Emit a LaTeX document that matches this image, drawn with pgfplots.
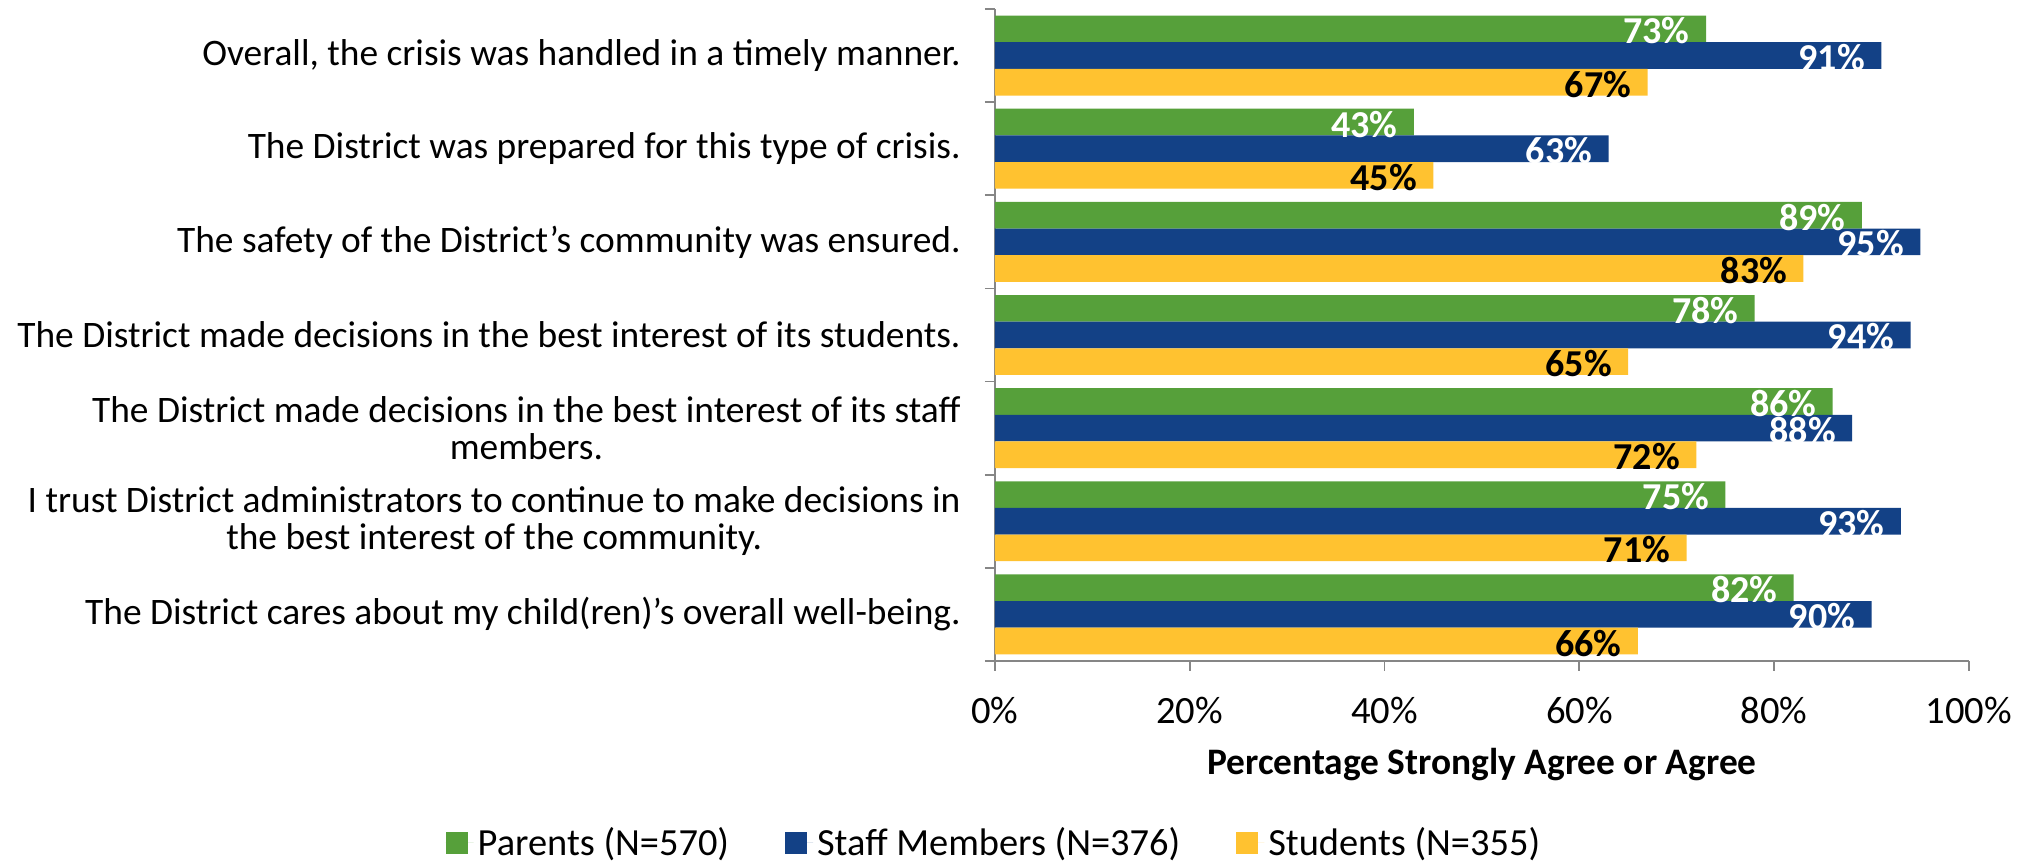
\documentclass[border=0pt]{standalone}
\usepackage{fontspec}
\setmainfont{Carlito}
\usepackage{pgfplots}
\pgfplotsset{compat=1.18}

\definecolor{cParents}{HTML}{56A03A}
\definecolor{cStaff}{HTML}{134186}
\definecolor{cStudents}{HTML}{FFC230}
\definecolor{axgray}{HTML}{868686}

\begin{document}
\begin{tikzpicture}
  \useasboundingbox (-497.5pt,-102pt) rectangle (517.5pt,330.5pt);
  \begin{axis}[
      xbar,
      scale only axis,
      width=487pt, height=326pt,
      xmin=0, xmax=100,
      ymin=-0.5, ymax=6.5,
      enlargelimits=false,
      bar width=0.286,
      axis x line*=bottom, axis y line*=left,
      axis line style={draw=axgray, line width=0.9pt, -},
      tick align=outside,
      major tick length=5pt,
      minor tick length=5pt,
      every tick/.style={draw=axgray, line width=0.9pt},
      major y tick style={draw=none},
      xtick={0,20,40,60,80,100},
      xticklabels={0\%,20\%,40\%,60\%,80\%,100\%},
      xticklabel style={font=\fontsize{19.3pt}{21pt}\selectfont, anchor=base, yshift=-26.5pt},
      ytick={0,1,2,3,4,5,6},
      minor ytick={-0.5,0.5,1.5,2.5,3.5,4.5,5.5,6.5},
      yticklabels={
        {The District cares about my child(ren)’s overall well-being.},
        {I trust District administrators to continue to make decisions in\\the best interest of the community.},
        {The District made decisions in the best interest of its staff\\members.},
        {The District made decisions in the best interest of its students.},
        {The safety of the District’s community was ensured.},
        {The District was prepared for this type of crisis.},
        {Overall, the crisis was handled in a timely manner.}},
      yticklabel style={font=\fontsize{18.7pt}{18.5pt}\selectfont, align=center,
                        anchor=east, inner sep=0pt, xshift=-12pt},
      xlabel={\textbf{Percentage Strongly Agree or Agree}},
      xlabel style={font=\fontsize{18.7pt}{20pt}\selectfont,
                    at={(axis description cs:0.5,0)}, anchor=center, yshift=-52pt},
      /pgf/number format/assume math mode=true,
      point meta=x,
      nodes near coords={\pgfmathprintnumber{\pgfplotspointmeta}\%},
      nodes near coords style={font=\bfseries\fontsize{19pt}{19pt}\selectfont,
                               anchor=east, inner sep=0pt, xshift=-8pt, yshift=-1pt},
      legend style={draw=none, at={(0,-0.279)}, anchor=center, legend columns=3,
                    font=\fontsize{19.2pt}{21pt}\selectfont,
                    /tikz/every even column/.append style={column sep=26pt},
                    /tikz/every odd column/.append style={column sep=0pt}},
      legend image code/.code={\path (0pt,0pt) -- (14pt,0pt);
                               \fill[#1] (0pt,-5.5pt) rectangle (11pt,5.5pt);},
    ]
    \addplot[fill=cParents, draw=none, bar shift=0.286,
             nodes near coords style={text=white}] coordinates {
      (82,0) (75,1) (86,2) (78,3) (89,4) (43,5) (73,6)};
    \addplot[fill=cStaff, draw=none, bar shift=0,
             nodes near coords style={text=white}] coordinates {
      (90,0) (93,1) (88,2) (94,3) (95,4) (63,5) (91,6)};
    \addplot[fill=cStudents, draw=none, bar shift=-0.286,
             nodes near coords style={text=black}] coordinates {
      (66,0) (71,1) (72,2) (65,3) (83,4) (45,5) (67,6)};
    \legend{Parents (N=570), Staff Members (N=376), Students (N=355)}
  \end{axis}
\end{tikzpicture}
\end{document}
